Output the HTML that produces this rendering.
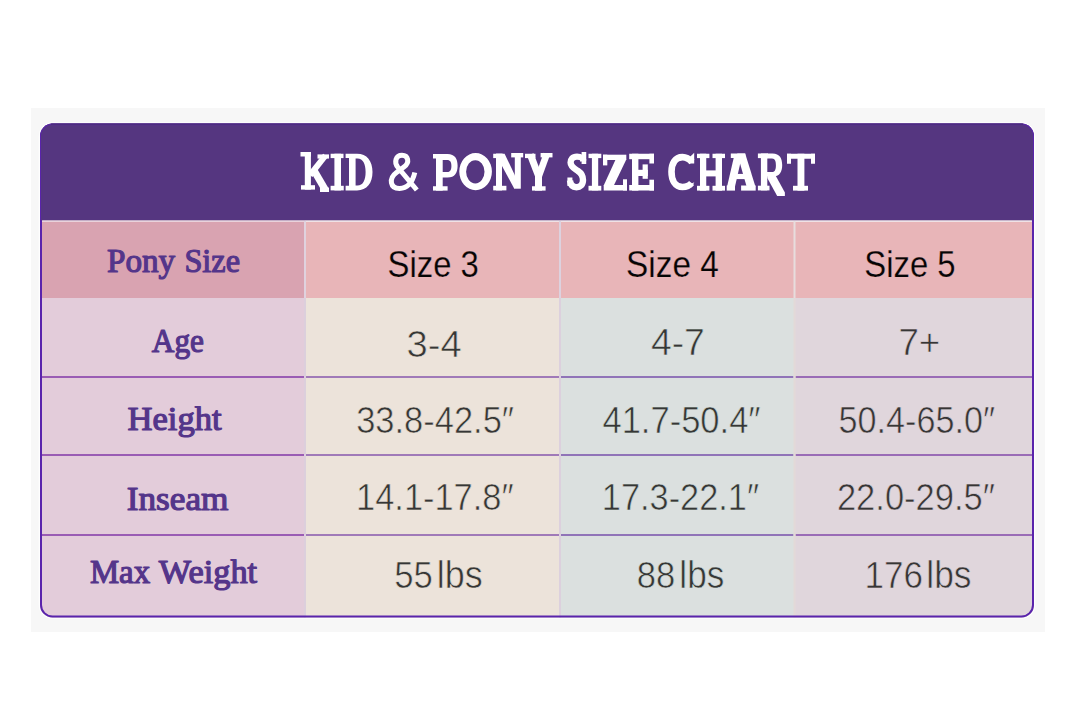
<!DOCTYPE html>
<html>
<head>
<meta charset="utf-8">
<title>Kid &amp; Pony Size Chart</title>
<style>
html,body{margin:0;padding:0;background:#ffffff;}
body{width:1080px;height:721px;overflow:hidden;font-family:"Liberation Sans",sans-serif;}
svg{display:block;position:absolute;left:0;top:0;}
.lab{font-family:"Liberation Serif",serif;font-weight:normal;font-size:33.5px;fill:#54358a;stroke:#54358a;stroke-width:1.2px;stroke-linejoin:round;}
.dat{font-family:"Liberation Sans",sans-serif;font-size:36.5px;fill:#363636;stroke-width:0.6px;paint-order:fill stroke;}
.hdr{font-family:"Liberation Sans",sans-serif;font-size:36.5px;fill:#050505;stroke:#e8b5b8;stroke-width:0.25px;paint-order:fill stroke;}
</style>
</head>
<body>
<svg width="1080" height="721" viewBox="0 0 1080 721">
  <defs>
    <clipPath id="tbl"><rect x="40" y="123.5" width="994" height="494.0" rx="12.5" ry="12.5"/></clipPath>
  </defs>
  <rect x="0" y="0" width="1080" height="721" fill="#ffffff"/>
  <rect x="31" y="108" width="1014" height="524" fill="#f7f7f7"/>
  <rect x="38.7" y="122.2" width="996.6" height="496.6" rx="13.8" ry="13.8" fill="#ffffff" opacity="0.85"/>
  <g clip-path="url(#tbl)">
    <rect x="40" y="123" width="994" height="495" fill="#e6dce0"/>
    <rect x="40" y="123" width="994" height="97.5" fill="#553680"/>
    <rect x="40" y="220.5" width="265" height="1.8" fill="#e9d2dc"/>
    <rect x="305" y="220.5" width="729" height="1.8" fill="#efe2e6"/>
    <rect x="40" y="222" width="265" height="76" fill="#d9a3b1"/>
    <rect x="305" y="222" width="729" height="76" fill="#e8b5b8"/>
    <rect x="40" y="298" width="265" height="320" fill="#e3ccda"/>
    <rect x="305" y="298" width="255" height="320" fill="#ece3da"/>
    <rect x="560" y="298" width="235" height="320" fill="#dbe0df"/>
    <rect x="795" y="298" width="239" height="320" fill="#e0d6dc"/>
    <g id="rowlines">
      <rect x="40" y="376" width="264" height="2" fill="#9a5cb4"/>
      <rect x="306" y="376" width="253" height="2" fill="#a07ab8"/>
      <rect x="561" y="376" width="232.5" height="2" fill="#9074b8"/>
      <rect x="795.5" y="376" width="239" height="2" fill="#9a6cb6"/>
      <rect x="40" y="454" width="264" height="2" fill="#9a5cb4"/>
      <rect x="306" y="454" width="253" height="2" fill="#a07ab8"/>
      <rect x="561" y="454" width="232.5" height="2" fill="#9074b8"/>
      <rect x="795.5" y="454" width="239" height="2" fill="#9a6cb6"/>
      <rect x="40" y="534" width="264" height="2" fill="#9a5cb4"/>
      <rect x="306" y="534" width="253" height="2" fill="#a07ab8"/>
      <rect x="561" y="534" width="232.5" height="2" fill="#9074b8"/>
      <rect x="795.5" y="534" width="239" height="2" fill="#9a6cb6"/>
    </g>
    <g id="coldiv">
      <rect x="304" y="221" width="2" height="77" fill="#e0d2de"/>
      <rect x="559" y="221" width="2" height="77" fill="#ddd2df"/>
      <rect x="793.5" y="221" width="2" height="77" fill="#e7dddd"/>
      <rect x="304" y="298" width="2" height="320" fill="#dccfdc"/>
      <rect x="559" y="298" width="2" height="320" fill="#dcd0dd"/>
      <rect x="793.5" y="298" width="2" height="320" fill="#e3d9d8"/>
    </g>
  </g>
  <rect x="41" y="124.5" width="992" height="492.0" rx="11.5" ry="11.5" fill="none" stroke="#5a24ac" stroke-width="2"/>
  <path d="M41.6 220.2 V136.1 a11 11 0 0 1 11 -11 H1021.4 a11 11 0 0 1 11 11 V220.2" fill="none" stroke="#553680" stroke-width="1.2"/>
  <path d="M51 124.1 H1023" fill="none" stroke="#4a2b7a" stroke-width="1.2"/>

  <g id="title" fill="#ffffff">
    <rect x="304.8" y="152" width="6.1" height="37.6"/>
    <rect x="300.5" y="152" width="10.4" height="4.5"/>
    <rect x="301" y="185.2" width="14" height="4.4"/>
    <path d="M310 175.2L325.5 155.5" stroke="#fff" stroke-width="6" fill="none"/>
    <rect x="317.5" y="154.4" width="11.5" height="4.2"/>
    <path d="M310.5 171.6L316.4 167.6L329 189V192H322.4Z" />
    <rect x="320" y="187.6" width="9" height="4.4"/>
    <rect x="334.4" y="153.75" width="6.6" height="36.65"/>
    <rect x="330.6" y="153.75" width="12.9" height="4.35"/>
    <rect x="330.6" y="185.8" width="13.15" height="4.6"/>
    <path d="M345.6 153.75H357C367 153.75 372.5 161 372.5 172C372.5 183 367 190.4 357 190.4H345.6V185.8H349V158.1H345.6Z M355.6 158.5H357.5C363 158.5 365.6 164 365.6 172C365.6 180 363 185.6 357.5 185.6H355.6Z" fill-rule="evenodd"/>
    <path d="M416.8 190 L398 167.5 C393.5 162 396 155.2 402 155.2 C408.2 155.2 410 162.5 404.2 166.8 L396.5 172.5 C388.5 178.5 390 188.4 399.5 188.4 C408 188.4 412.8 181 414.8 172.5" stroke="#fff" stroke-width="5.0" fill="none" />
    <rect x="436" y="154" width="6.7" height="36.6"/>
    <rect x="433" y="154" width="10" height="4.5"/>
    <rect x="433" y="186.25" width="14.6" height="4.35"/>
    <path d="M442 154H447.5C455 154 457.6 159 457.6 165.75C457.6 172.5 455 177.6 447.5 177.6H442V172H447C450.4 172 451.4 169.5 451.4 165.9C451.4 162.3 450.4 160 447 160H442Z" />
    <path d="M475.6 153A16.3 18.6 0 1 0 475.6 190.2A16.3 18.6 0 1 0 475.6 153Z M475.3 160.2A9.2 11.6 0 1 1 475.3 183.4A9.2 11.6 0 1 1 475.3 160.2Z" fill-rule="evenodd"/>
    <rect x="496" y="153.75" width="6" height="36.65"/>
    <rect x="493.2" y="153.75" width="9.8" height="4.35"/>
    <rect x="493.2" y="185.8" width="13.2" height="4.6"/>
    <path d="M496 153.75H504.6L515 175.5V188.7H514.3L502 166Z" />
    <rect x="514.8" y="153" width="6.0" height="35.7"/>
    <rect x="511.2" y="153" width="12.0" height="4.4"/>
    <path d="M530.3 154.5L538.6 176" stroke="#fff" stroke-width="7" fill="none"/>
    <path d="M546.8 154L538.8 176" stroke="#fff" stroke-width="6.6" fill="none"/>
    <rect x="525" y="153.75" width="10.5" height="4.35"/>
    <rect x="540.6" y="153" width="11.9" height="4.4"/>
    <rect x="535" y="172" width="7" height="18.6"/>
    <rect x="532" y="186.25" width="13.6" height="4.35"/>
    <path d="M583.5 161 C582.5 157 580 156.6 577 156.6 C572.5 156.6 570.6 159.5 570.6 162.5 C570.6 167 575 169 578 171 C581 173 583 176 583 180 C583 185 580 187.2 576.5 187.2 C573 187.2 570.5 185.5 570 180.5" stroke="#fff" stroke-width="6.4" fill="none" />
    <rect x="581.6" y="152" width="4.65" height="12"/>
    <rect x="567.4" y="177.5" width="5.0" height="8.5"/>
    <rect x="591.9" y="153.75" width="6.3" height="36.65"/>
    <rect x="588.5" y="153.75" width="12.8" height="4.35"/>
    <rect x="588.5" y="185.8" width="12.8" height="4.8"/>
    <rect x="603" y="154.7" width="23.3" height="5.3"/>
    <rect x="603" y="154.7" width="4.3" height="10.7"/>
    <path d="M615.6 159.5H626.3L613.8 185.5H603.7Z" />
    <rect x="603.7" y="185" width="23.3" height="5.5"/>
    <rect x="623" y="179.3" width="4" height="11.2"/>
    <rect x="632" y="153.75" width="6.4" height="36.85"/>
    <rect x="629.2" y="153.75" width="24.8" height="5.45"/>
    <rect x="649.4" y="153.75" width="4.6" height="9.75"/>
    <rect x="638" y="169.8" width="9.8" height="6.2"/>
    <rect x="642.6" y="164.4" width="5.2" height="14.4"/>
    <rect x="629.2" y="185" width="24.8" height="5.5"/>
    <rect x="649.4" y="179.7" width="4.6" height="10.8"/>
    <path d="M692 162 C688.5 158 686 157.1 682.5 157.1 C675 157.1 671.5 163.5 671.5 171.8 C671.5 180 675 187 682.5 187 C686.5 187 689.5 185.6 691.6 183" stroke="#fff" stroke-width="6.6" fill="none" />
    <path d="M689 184.8L694.3 182.2L691.5 187.5Z" />
    <path d="M688.8 158L694.2 152.7V163.5H688.8Z" />
    <rect x="700" y="153.75" width="6.25" height="36.85"/>
    <rect x="715.6" y="153.75" width="6.4" height="36.85"/>
    <rect x="697" y="153.75" width="12.4" height="4.35"/>
    <rect x="712.5" y="153.75" width="12.5" height="4.35"/>
    <rect x="697" y="185.8" width="12.4" height="4.8"/>
    <rect x="712.5" y="185.8" width="12.5" height="4.8"/>
    <rect x="705.5" y="170.4" width="10.5" height="6.0"/>
    <rect x="730.8" y="153.5" width="14.4" height="4.5"/>
    <path d="M737.2 153.5H745.2L755.4 186.5H746.6Z" />
    <path d="M733.8 157.5H741.6L735 186.5H727.1Z" />
    <rect x="733" y="173.9" width="17" height="5.2"/>
    <rect x="726.7" y="185.5" width="8.3" height="5.1"/>
    <rect x="741.1" y="185.5" width="14.6" height="5.1"/>
    <rect x="760.9" y="153.5" width="6.4" height="36.9"/>
    <rect x="757.9" y="153.5" width="10.1" height="4.6"/>
    <rect x="757.9" y="185.7" width="11.6" height="4.7"/>
    <path d="M767 153.5H772.5C779.8 153.5 782.2 158.6 782.2 165C782.2 171.6 779.8 176.6 772.5 176.6H767V172H772C775.2 172 775.9 169 775.9 165.2C775.9 161.5 775.2 158.5 772 158.5H767Z" />
    <path d="M767.3 174.5L775 174.5L784.9 192.6V196H777.2L767.3 178Z" />
    <rect x="787" y="153.75" width="28" height="5.0"/>
    <rect x="787" y="153.75" width="4" height="10.0"/>
    <rect x="811" y="153.75" width="4" height="10.0"/>
    <rect x="797.5" y="153.75" width="6.9" height="36.85"/>
    <rect x="793" y="185.8" width="15" height="4.8"/>
  </g>

  <g id="labels">
    <text class="lab" x="106.98" y="272.2" textLength="68.2" lengthAdjust="spacingAndGlyphs">Pony</text>
    <text class="lab" x="184.38" y="272.2" textLength="55.66" lengthAdjust="spacingAndGlyphs">Size</text>
    <text class="lab" x="151.78" y="351.7" textLength="52.24" lengthAdjust="spacingAndGlyphs">Age</text>
    <text class="lab" x="127.48" y="430.4" textLength="94.24" lengthAdjust="spacingAndGlyphs">Height</text>
    <text class="lab" x="126.72" y="510.4" textLength="101.74" lengthAdjust="spacingAndGlyphs">Inseam</text>
    <text class="lab" x="89.92" y="582.6" textLength="60.16" lengthAdjust="spacingAndGlyphs">Max</text>
    <text class="lab" x="158.76" y="582.6" textLength="98.4" lengthAdjust="spacingAndGlyphs">Weight</text>
  </g>
  <g id="hdrs">
    <text class="hdr" x="387.56" y="276.5" textLength="91.24" lengthAdjust="spacingAndGlyphs">Size 3</text>
    <text class="hdr" x="626.08" y="276.5" textLength="92.72" lengthAdjust="spacingAndGlyphs">Size 4</text>
    <text class="hdr" x="864.24" y="276.5" textLength="91.34" lengthAdjust="spacingAndGlyphs">Size 5</text>
  </g>
  <g id="data">
    <text class="dat" x="406.56" y="356.7" textLength="55.16" lengthAdjust="spacingAndGlyphs" stroke="#ece3da">3-4</text>
    <text class="dat" x="650.98" y="354.8" textLength="53.88" lengthAdjust="spacingAndGlyphs" stroke="#dbe0df">4-7</text>
    <text class="dat" x="898.4" y="354.8" textLength="41.94" lengthAdjust="spacingAndGlyphs" stroke="#e0d6dc">7+</text>
    <text class="dat" x="356.16" y="433.1" textLength="157.9" lengthAdjust="spacingAndGlyphs" stroke="#ece3da">33.8-42.5″</text>
    <text class="dat" x="602.46" y="433.1" textLength="158.1" lengthAdjust="spacingAndGlyphs" stroke="#dbe0df">41.7-50.4″</text>
    <text class="dat" x="838.44" y="433.1" textLength="156.62" lengthAdjust="spacingAndGlyphs" stroke="#e0d6dc">50.4-65.0″</text>
    <text class="dat" x="356.1" y="509.6" textLength="157.46" lengthAdjust="spacingAndGlyphs" stroke="#ece3da">14.1-17.8″</text>
    <text class="dat" x="601.86" y="509.6" textLength="157.2" lengthAdjust="spacingAndGlyphs" stroke="#dbe0df">17.3-22.1″</text>
    <text class="dat" x="836.9" y="509.6" textLength="158.16" lengthAdjust="spacingAndGlyphs" stroke="#e0d6dc">22.0-29.5″</text>
    <text class="dat" x="394.24" y="587.8" textLength="38.62" lengthAdjust="spacingAndGlyphs" stroke="#ece3da" fill="#463e35">55</text>
    <text class="dat" x="436.86" y="587.8" textLength="45.96" lengthAdjust="spacingAndGlyphs" stroke="#ece3da" fill="#463e35" style="font-size:38.6px">lbs</text>
    <text class="dat" x="636.68" y="587.8" textLength="38.42" lengthAdjust="spacingAndGlyphs" stroke="#dbe0df" fill="#394141">88</text>
    <text class="dat" x="679.34" y="587.8" textLength="44.96" lengthAdjust="spacingAndGlyphs" stroke="#dbe0df" fill="#394141" style="font-size:38.6px">lbs</text>
    <text class="dat" x="864.62" y="587.8" textLength="58.48" lengthAdjust="spacingAndGlyphs" stroke="#e0d6dc" fill="#41363c">176</text>
    <text class="dat" x="926.34" y="587.8" textLength="45.2" lengthAdjust="spacingAndGlyphs" stroke="#e0d6dc" fill="#41363c" style="font-size:38.6px">lbs</text>
  </g>
</svg>
</body>
</html>
